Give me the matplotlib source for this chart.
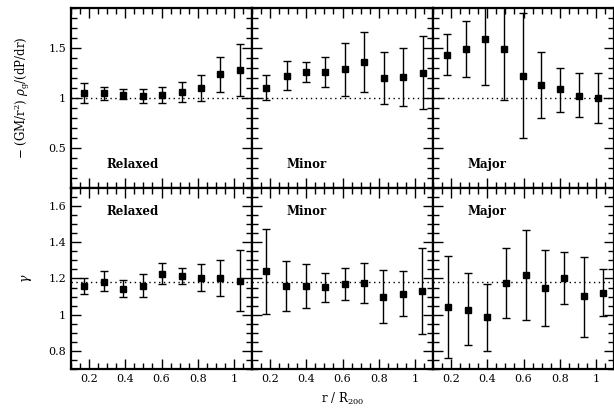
import numpy as np
import matplotlib.pyplot as plt
from matplotlib.ticker import MultipleLocator, FormatStrFormatter

plt.rcParams['font.family'] = 'DejaVu Serif'
plt.rcParams['mathtext.fontset'] = 'dejavuserif'

names = ['Relaxed', 'Minor', 'Major']

# top row: hydrostatic ratio
x_top = [[0.172, 0.282, 0.387, 0.497, 0.602, 0.713, 0.818, 0.923, 1.034],
         [0.177, 0.293, 0.398, 0.503, 0.613, 0.718, 0.829, 0.934, 1.044],
         [0.177, 0.282, 0.387, 0.492, 0.596, 0.697, 0.800, 0.907, 1.012]]
y_top = [[1.047, 1.053, 1.030, 1.020, 1.030, 1.063, 1.100, 1.240, 1.280],
         [1.103, 1.220, 1.260, 1.260, 1.290, 1.360, 1.200, 1.210, 1.253],
         [1.430, 1.490, 1.590, 1.490, 1.223, 1.130, 1.087, 1.023, 0.997]]
hi_top = [[1.147, 1.107, 1.087, 1.090, 1.107, 1.163, 1.230, 1.413, 1.537],
          [1.227, 1.367, 1.360, 1.407, 1.553, 1.663, 1.457, 1.497, 1.623],
          [1.640, 1.770, 2.050, 2.000, 1.850, 1.460, 1.303, 1.250, 1.247]]
lo_top = [[0.953, 0.980, 0.987, 0.953, 0.947, 0.963, 0.973, 1.063, 1.023],
          [0.980, 1.080, 1.160, 1.107, 1.023, 1.057, 0.937, 0.917, 0.890],
          [1.227, 1.210, 1.127, 0.977, 0.597, 0.797, 0.863, 0.813, 0.753]]

# bottom row: polytropic index gamma
x_bot = [[0.172, 0.282, 0.387, 0.497, 0.602, 0.712, 0.817, 0.925, 1.036],
         [0.177, 0.290, 0.396, 0.502, 0.612, 0.718, 0.824, 0.932, 1.040],
         [0.181, 0.293, 0.397, 0.503, 0.612, 0.719, 0.824, 0.933, 1.039]]
y_bot = [[1.159, 1.181, 1.143, 1.159, 1.225, 1.213, 1.202, 1.202, 1.187],
         [1.242, 1.159, 1.159, 1.154, 1.169, 1.174, 1.099, 1.114, 1.132],
         [1.044, 1.027, 0.989, 1.174, 1.218, 1.147, 1.202, 1.101, 1.119]]
hi_bot = [[1.205, 1.240, 1.189, 1.225, 1.288, 1.260, 1.281, 1.302, 1.356],
          [1.475, 1.295, 1.279, 1.233, 1.258, 1.284, 1.246, 1.240, 1.367],
          [1.327, 1.229, 1.172, 1.369, 1.470, 1.358, 1.349, 1.321, 1.250]]
lo_bot = [[1.114, 1.130, 1.097, 1.097, 1.167, 1.170, 1.130, 1.104, 1.018],
          [1.004, 1.022, 1.038, 1.070, 1.081, 1.064, 0.952, 0.993, 0.894],
          [0.761, 0.833, 0.802, 0.980, 0.969, 0.938, 1.059, 0.877, 0.993]]

ref_top = 1.0
ref_bot = 1.18

fig = plt.figure(figsize=(6.14, 4.08), dpi=100)
L, W = 71 / 614, 181 / 614
rows = [(1 - 188 / 408, 180 / 408), (1 - 369 / 408, 181 / 408)]


def style(ax, ymaj, ymin):
    ax.set_xlim(0.1, 1.1)
    ax.xaxis.set_major_locator(MultipleLocator(0.2))
    ax.xaxis.set_minor_locator(MultipleLocator(0.05))
    ax.yaxis.set_major_locator(MultipleLocator(ymaj))
    ax.yaxis.set_minor_locator(MultipleLocator(ymin))
    ax.xaxis.set_major_formatter(FormatStrFormatter('%g'))
    ax.yaxis.set_major_formatter(FormatStrFormatter('%g'))
    ax.tick_params(which='both', direction='in', top=True, right=True,
                   labelsize=8, width=1)
    ax.tick_params(which='major', length=7)
    ax.tick_params(which='minor', length=4)
    for s in ax.spines.values():
        s.set_linewidth(1.6)


for row in range(2):
    b, h = rows[row]
    for j in range(3):
        ax = fig.add_axes([L + j * W, b, W, h])
        if row == 0:
            xs, ys, hi, lo, ref = x_top[j], y_top[j], hi_top[j], lo_top[j], ref_top
            ax.set_ylim(0.1, 1.9)
            style(ax, 0.5, 0.1)
            ax.tick_params(labelbottom=False)
            ty = 0.13
        else:
            xs, ys, hi, lo, ref = x_bot[j], y_bot[j], hi_bot[j], lo_bot[j], ref_bot
            ax.set_ylim(0.7, 1.7)
            style(ax, 0.2, 0.05)
            ty = 0.87
        if j > 0:
            ax.tick_params(labelleft=False)
        ys = np.array(ys)
        err = [ys - np.array(lo), np.array(hi) - ys]
        ax.axhline(ref, color='k', ls=(0, (1, 2.5)), lw=1)
        ax.errorbar(xs, ys, yerr=err, fmt='s', color='k', ms=5,
                    elinewidth=1, capsize=3, capthick=1)
        ax.text(0.30 if j else 0.34, ty, names[j], transform=ax.transAxes,
                ha='center', va='center', fontsize=8.5, fontweight='bold')
        if j == 0 and row == 0:
            ax.set_ylabel(r'$-$ (GM/r$^2$) $\rho_{\rm g}$/(dP/dr)', fontsize=8.5,
                          labelpad=12)
        if j == 0 and row == 1:
            ax.set_ylabel(r'$\gamma$', fontsize=9, rotation=90, labelpad=10)

fig.text(343 / 614, 1 - 399 / 408, r'r / R$_{200}$', ha='center', va='center',
         fontsize=8.5)

fig.savefig('out.png', dpi=100)
